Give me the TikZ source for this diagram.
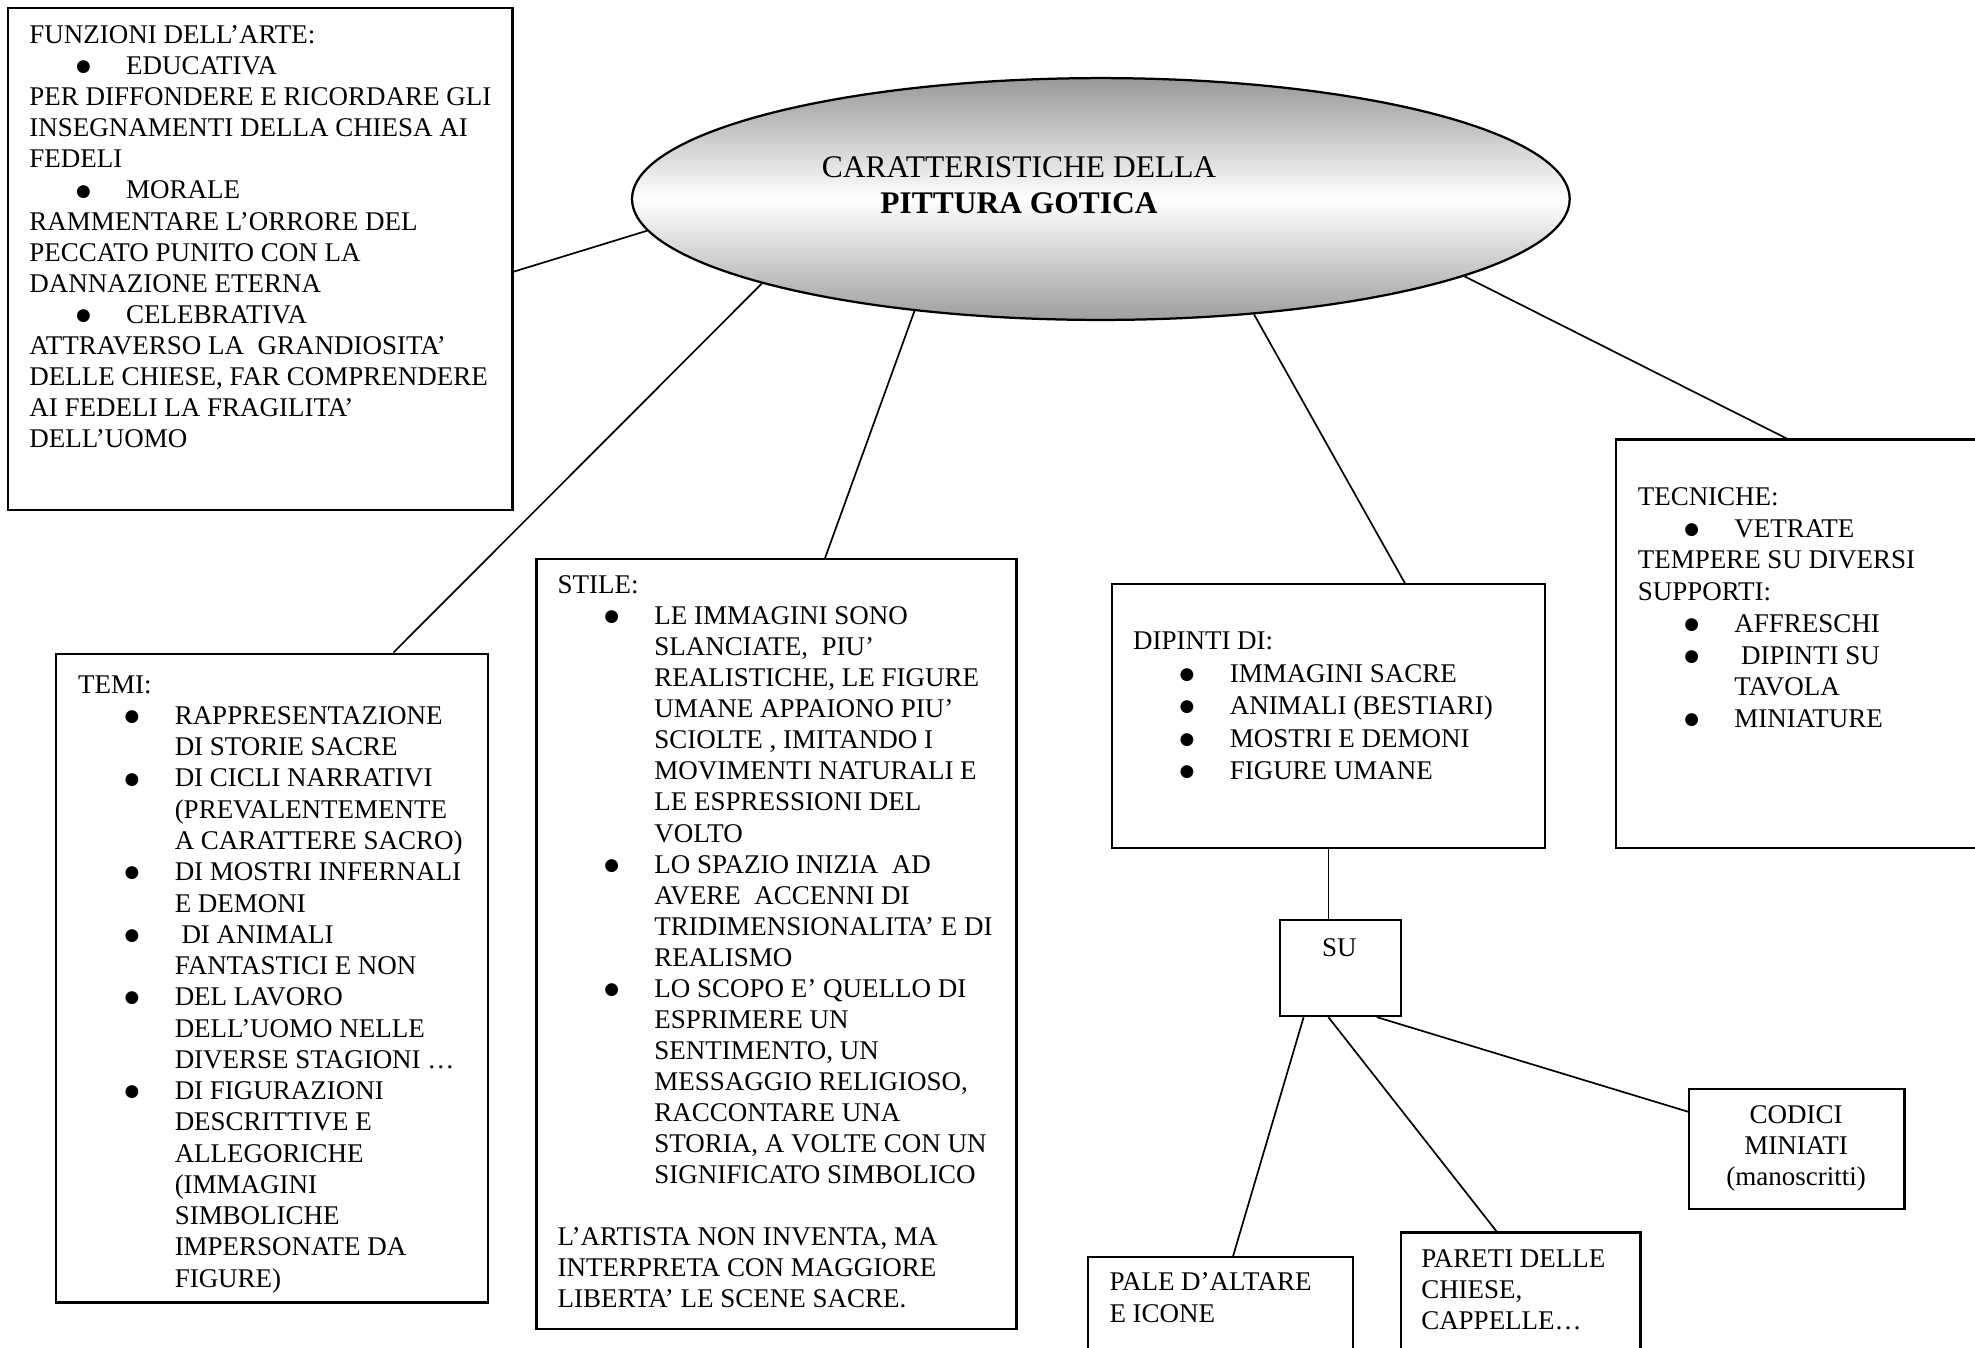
\documentclass[tikz,border=0pt]{standalone}
\usepackage{fontspec}
\setmainfont{Liberation Serif}
\newfontfamily\symfont{DejaVu Sans}
\usetikzlibrary{shapes.geometric,fit}

% bullet line and continuation line inside the list boxes
\newcommand\bigbullet{\raisebox{1.3pt}{\symfont\fontsize{7.5pt}{7.5pt}\selectfont ●}}
\newcommand\itemline[1]{\hspace*{24pt}\makebox[0pt]{\bigbullet}\hspace*{19pt}#1}
\newcommand\contline[1]{\hspace*{43pt}#1}

\tikzset{
  box/.style={draw, line width=1pt, inner sep=0pt},
  link/.style={draw, line width=0.75pt},
  txt/.style={inner sep=0pt, anchor=north west, align=left},
  body/.style={font=\fontsize{12pt}{#1}\selectfont},
  body/.default=13.8pt,
  hub/.style={ellipse, draw, line width=1pt, inner sep=0pt,
    top color=black!40, bottom color=black!38, middle color=white,
    minimum width=744.4*0.56pt, minimum height=192*0.56pt}
}

\begin{document}
\begin{tikzpicture}[x=0.56pt, y=-0.56pt]
\useasboundingbox (0,0) rectangle (1568,1070);
\clip (0,0) rectangle (1568,1070);
\fill[white] (0,0) rectangle (1568,1070);

% central ellipse and its title
\node[hub] (ell) at (874,158) {};
\node[inner sep=0pt, anchor=north, align=center,
      font=\fontsize{14pt}{16.3pt}\selectfont] (title) at (809,119.9)
  {\strut CARATTERISTICHE DELLA\\ \textbf{PITTURA GOTICA}};

% frames
\node[box, fit={(6.4,6.6) (406.9,404.9)}] (funz) {};
\node[box, fit={(44.2,519) (387.7,1034)}] (temi) {};
\node[box, fit={(426,444) (807,1055)}] (stile) {};
\node[box, fit={(883,463.9) (1226.6,673.5)}] (dip) {};
\node[box, fit={(1283,349) (1600,673.5)}] (tec) {};
\node[box, fit={(1016.2,730.4) (1112,806.6)}] (su) {};
\node[box, fit={(864,998) (1074,1100)}] (pale) {};
\node[box, fit={(1112,978.6) (1302.4,1100)}] (par) {};
\node[box, fit={(1341,864.6) (1512,959.8)}] (cod) {};

% texts
\node[txt, body] (funzT) at (23,17.15) {\strut FUNZIONI DELL’ARTE:\\
\itemline{EDUCATIVA}\\
PER DIFFONDERE E RICORDARE GLI\\
INSEGNAMENTI DELLA CHIESA AI\\
FEDELI\\
\itemline{MORALE}\\
RAMMENTARE L’ORRORE DEL\\
PECCATO PUNITO CON LA\\
DANNAZIONE ETERNA\\
\itemline{CELEBRATIVA}\\
ATTRAVERSO LA\ \ GRANDIOSITA’\\
DELLE CHIESE, FAR COMPRENDERE\\
AI FEDELI LA FRAGILITA’\\
DELL’UOMO};

\node[txt, body=13.9pt] (temiT) at (61.6,532.6) {\strut TEMI:\\
\itemline{RAPPRESENTAZIONE}\\
\contline{DI STORIE SACRE}\\
\itemline{DI CICLI NARRATIVI}\\
\contline{(PREVALENTEMENTE}\\
\contline{A CARATTERE SACRO)}\\
\itemline{DI MOSTRI INFERNALI}\\
\contline{E DEMONI}\\
\itemline{\ DI ANIMALI}\\
\contline{FANTASTICI E NON}\\
\itemline{DEL LAVORO}\\
\contline{DELL’UOMO NELLE}\\
\contline{DIVERSE STAGIONI …}\\
\itemline{DI FIGURAZIONI}\\
\contline{DESCRITTIVE E}\\
\contline{ALLEGORICHE}\\
\contline{(IMMAGINI}\\
\contline{SIMBOLICHE}\\
\contline{IMPERSONATE DA}\\
\contline{FIGURE)}};

\node[txt, body] (stileT) at (442.4,453.75) {\strut STILE:\\
\itemline{LE IMMAGINI SONO}\\
\contline{SLANCIATE,\ \ PIU’}\\
\contline{REALISTICHE, LE FIGURE}\\
\contline{UMANE APPAIONO PIU’}\\
\contline{SCIOLTE , IMITANDO I}\\
\contline{MOVIMENTI NATURALI E}\\
\contline{LE ESPRESSIONI DEL}\\
\contline{VOLTO}\\
\itemline{LO SPAZIO INIZIA\ \ AD}\\
\contline{AVERE\ \ ACCENNI DI}\\
\contline{TRIDIMENSIONALITA’ E DI}\\
\contline{REALISMO}\\
\itemline{LO SCOPO E’ QUELLO DI}\\
\contline{ESPRIMERE UN}\\
\contline{SENTIMENTO, UN}\\
\contline{MESSAGGIO RELIGIOSO,}\\
\contline{RACCONTARE UNA}\\
\contline{STORIA, A VOLTE CON UN}\\
\contline{SIGNIFICATO SIMBOLICO}\\
\mbox{}\\
L’ARTISTA NON INVENTA, MA\\
INTERPRETA CON MAGGIORE\\
LIBERTA’ LE SCENE SACRE.};

\node[txt, body=14.5pt] (dipT) at (899.2,497.1) {\strut DIPINTI DI:\\
\itemline{IMMAGINI SACRE}\\
\itemline{ANIMALI (BESTIARI)}\\
\itemline{MOSTRI E DEMONI}\\
\itemline{FIGURE UMANE}};

\node[txt, body=14.1pt] (tecT) at (1299.9,383.3) {\strut TECNICHE:\\
\itemline{VETRATE}\\
TEMPERE SU DIVERSI\\
SUPPORTI:\\
\itemline{AFFRESCHI}\\
\itemline{\ DIPINTI SU}\\
\contline{TAVOLA}\\
\itemline{MINIATURE}};

\node[inner sep=0pt, anchor=base, body] (suT) at (1063.3,759.5) {SU};

\node[txt, body=13.9pt] (paleT) at (880.5,1007.1) {\strut PALE D’ALTARE\\ E ICONE};
\node[txt, body] (parT) at (1128,988.3) {\strut PARETI DELLE\\ CHIESE,\\ CAPPELLE…};
\node[inner sep=0pt, anchor=north, align=center, body] (codT) at (1426,874)
  {\strut CODICI\\ MINIATI\\ (manoscritti)};

% connectors
\draw[link] (funz.east |- 0,215.7) -- (ell.184.7);
\draw[link] (temi.north -| 312.3,0) -- (ell.194.9);
\draw[link] (stile.north -| 655,0) -- (ell.211.5);
\draw[link] (dip.north -| 1115.4,0) -- (ell.323.9);
\draw[link] (tec.north -| 1418.4,0) -- (ell.348.9);
\draw[link] (dip.south -| 1054.6,0) -- (su.north -| 1054.6,0);
\draw[link] (su.south -| 1035,0) -- (pale.north -| 979,0);
\draw[link] (su.south -| 1054.6,0) -- (par.north -| 1188.2,0);
\draw[link] (su.south -| 1093,0) -- (cod.west |- 0,882.6);
\end{tikzpicture}
\end{document}
